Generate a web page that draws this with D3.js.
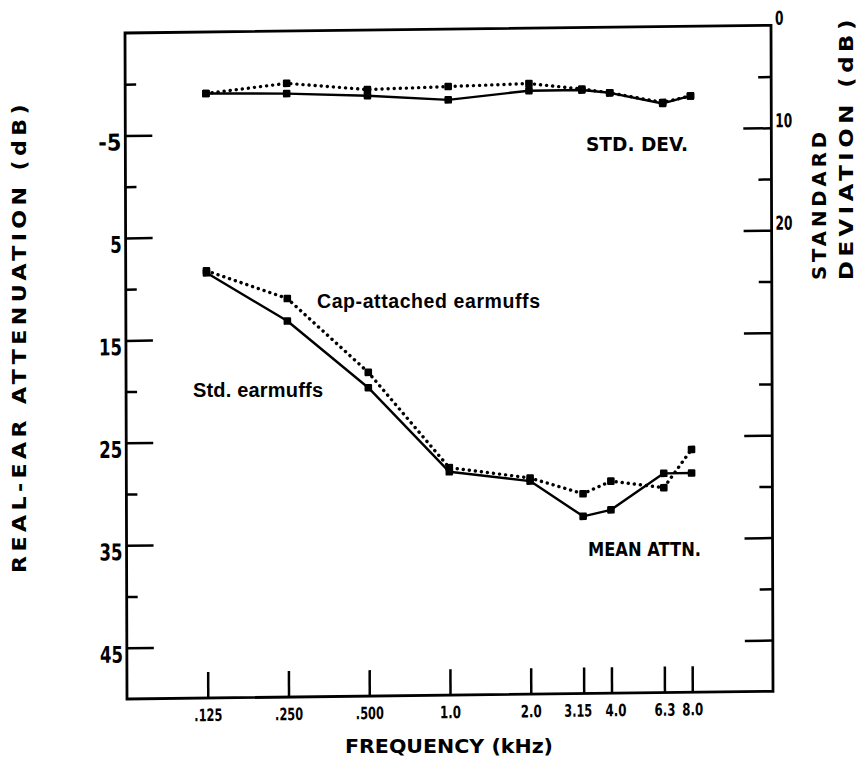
<!DOCTYPE html>
<html><head><meta charset="utf-8">
<script src="https://cdn.jsdelivr.net/npm/d3@7"></script>
<style>html,body{margin:0;padding:0;background:#fff}</style>
</head><body>
<svg id="c" width="859" height="769"></svg>
<script>
// ---- data ----
const freqs = [0.125, 0.25, 0.5, 1, 2, 3.15, 4, 6.3, 8];
const freqLabels = [".125", ".250", ".500", "1.0", "2.0", "3.15", "4.0", "6.3", "8.0"];
const meanStd = [8.5, 13.3, 19.9, 28.2, 29.2, 32.7, 32.1, 28.6, 28.6];
const meanCap = [8.3, 11.1, 18.4, 27.8, 28.9, 30.5, 29.3, 30.0, 26.3];
const sdStd = [6.0, 6.1, 6.4, 6.9, 6.1, 6.1, 6.4, 7.5, 6.8];
const sdCap = [6.0, 5.1, 5.8, 5.6, 5.4, 6.0, 6.4, 7.4, 6.8];
const leftMajorTicks = [-5, 5, 15, 25, 35, 45];
const leftMinorTicks = [-10, 0, 10, 20, 30, 40];
const rightLongTicks = [0, 10, 20, 30, 40, 50, 60];
const rightShortTicks = [5, 15, 25, 35, 45, 55];
const rightLabels = [0, 10, 20];

const svg = d3.select("#c");
const L = 127, R = 773, T = 33, B = 699;
const x = d3.scaleLog().domain([1/16, 16]).range([L, R]);
const yA = d3.scaleLinear().domain([-15, 50]).range([T, B]);
const yS = d3.scaleLinear().domain([0, 65]).range([T, B]);

const FONT = "'DejaVu Sans', 'Liberation Sans', sans-serif";
const HELV = "'Liberation Sans', Arial, Helvetica, sans-serif";

// scanned page is slightly sheared
const g = svg.append("g").attr("transform", "matrix(1,-0.0119,0.003,1,-2.097,1.511)");

// frame
g.append("rect").attr("x", L).attr("y", T).attr("width", R - L).attr("height", B - T)
  .attr("fill", "none").attr("stroke", "#000").attr("stroke-width", 2.8);

function styleAxis(sel) {
  sel.select(".domain").remove();
  sel.selectAll(".tick line").attr("stroke", "#000").attr("stroke-width", 2.5);
}

// left axis
const la = g.append("g").attr("transform", `translate(${L},0)`)
  .call(d3.axisLeft(yA).tickValues(leftMajorTicks).tickSize(-27).tickPadding(4).tickFormat(d => String(d)));
styleAxis(la);
la.selectAll(".tick text")
  .attr("font-family", FONT).attr("font-weight", "bold").attr("font-size", 23)
  .attr("fill", "#000").attr("dy", "0.62em")
  .attr("textLength", function(d){ return String(d).length * 11.5; })
  .attr("lengthAdjust", "spacingAndGlyphs");
const lm = g.append("g").attr("transform", `translate(${L},0)`)
  .call(d3.axisLeft(yA).tickValues(leftMinorTicks).tickSize(-11).tickFormat(""));
styleAxis(lm);

// right axis
const ra = g.append("g").attr("transform", `translate(${R},0)`)
  .call(d3.axisRight(yS).tickValues(rightLongTicks).tickSize(-28).tickPadding(4)
    .tickFormat(d => rightLabels.includes(d) ? String(d) : ""));
styleAxis(ra);
ra.selectAll(".tick line").filter(d => d === 0).remove();
ra.selectAll(".tick text")
  .attr("font-family", FONT).attr("font-weight", "bold").attr("font-size", 19)
  .attr("fill", "#000").attr("dy", "-0.05em").attr("text-anchor", "start")
  .attr("x", 4)
  .filter(d => rightLabels.includes(d))
  .attr("textLength", d => String(d).length * 8.5)
  .attr("lengthAdjust", "spacingAndGlyphs");
const rs = g.append("g").attr("transform", `translate(${R},0)`)
  .call(d3.axisRight(yS).tickValues(rightShortTicks).tickSize(-13).tickFormat(""));
styleAxis(rs);

// bottom axis
const labelShift = {"3.15": -6, "4.0": 4};
const ba = g.append("g").attr("transform", `translate(0,${B})`)
  .call(d3.axisBottom(x).tickValues(freqs).tickSize(-26).tickPadding(11)
    .tickFormat((d, i) => freqLabels[i]));
styleAxis(ba);
ba.selectAll(".tick text")
  .attr("font-family", FONT).attr("font-weight", "bold").attr("font-size", 17)
  .attr("fill", "#000")
  .attr("dx", (d, i) => labelShift[freqLabels[i]] || 0)
  .attr("textLength", (d, i) => freqLabels[i].length * 7)
  .attr("lengthAdjust", "spacingAndGlyphs");

// series
const lineA = d3.line().x((d, i) => x(freqs[i])).y(d => yA(d));
const lineS = d3.line().x((d, i) => x(freqs[i])).y(d => yS(d));
const series = [
  {vals: meanCap, line: lineA, y: yA, dotted: true},
  {vals: meanStd, line: lineA, y: yA, dotted: false},
  {vals: sdCap, line: lineS, y: yS, dotted: true},
  {vals: sdStd, line: lineS, y: yS, dotted: false}
];
series.forEach(s => {
  const p = g.append("path").datum(s.vals).attr("d", s.line)
    .attr("fill", "none").attr("stroke", "#000");
  if (s.dotted) p.attr("stroke-width", 3.4).attr("stroke-dasharray", "0.1 6").attr("stroke-linecap", "round");
  else p.attr("stroke-width", 2.4).attr("stroke-linejoin", "round");
  g.append("g").selectAll("rect").data(s.vals).join("rect")
    .attr("x", (d, i) => x(freqs[i]) - 3.8).attr("y", d => s.y(d) - 3.8)
    .attr("width", 7.6).attr("height", 7.6).attr("rx", 1.2).attr("fill", "#000");
});

// annotations (observed page coordinates)
function label(txt, xx, yy, size, len, fam, weight, adjust) {
  return svg.append("text").attr("x", xx).attr("y", yy).text(txt)
    .attr("font-family", fam).attr("font-weight", weight).attr("font-size", size)
    .attr("fill", "#000").attr("textLength", len).attr("lengthAdjust", adjust);
}
label("Cap-attached earmuffs", 317, 308, 19.5, 223, HELV, "bold", "spacing");
label("Std. earmuffs", 193, 397, 20, 130, HELV, "bold", "spacing");
label("STD. DEV.", 586, 151, 20, 102, FONT, "bold", "spacingAndGlyphs");
label("MEAN ATTN.", 588, 556, 20, 113, FONT, "bold", "spacingAndGlyphs");
label("FREQUENCY (kHz)", 345, 753, 20, 208, FONT, "bold", "spacingAndGlyphs");

// axis titles
svg.append("text").attr("transform", "translate(26,573) rotate(-90)")
  .text("REAL-EAR ATTENUATION (dB)")
  .attr("font-family", FONT).attr("font-weight", "bold").attr("font-size", 20)
  .attr("letter-spacing", 4)
  .attr("fill", "#000").attr("textLength", 473).attr("lengthAdjust", "spacingAndGlyphs");
svg.append("text").attr("transform", "translate(826,280) rotate(-90)")
  .text("STANDARD")
  .attr("font-family", FONT).attr("font-weight", "bold").attr("font-size", 20)
  .attr("letter-spacing", 4)
  .attr("fill", "#000").attr("textLength", 152).attr("lengthAdjust", "spacingAndGlyphs");
svg.append("text").attr("transform", "translate(853,280) rotate(-90)")
  .text("DEVIATION (dB)")
  .attr("font-family", FONT).attr("font-weight", "bold").attr("font-size", 20)
  .attr("letter-spacing", 4)
  .attr("fill", "#000").attr("textLength", 265).attr("lengthAdjust", "spacingAndGlyphs");
</script>
</body></html>
